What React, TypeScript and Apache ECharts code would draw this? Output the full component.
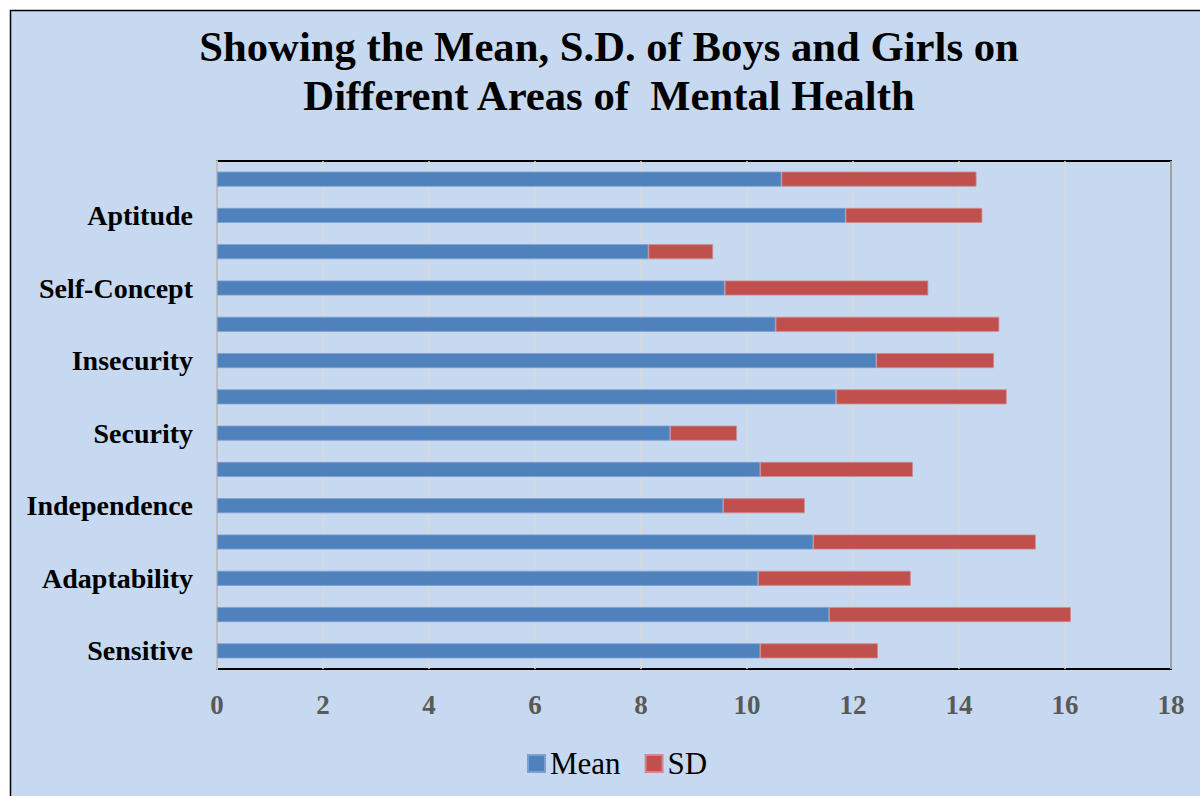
import React, { useEffect, useRef } from "react";
import * as echarts from "echarts";

const categories = [
  "Sensitive", "", "Adaptability", "", "Independence", "", "Security", "",
  "Insecurity", "", "Self-Concept", "", "Aptitude", "",
];
const meanValues = [10.25, 11.55, 10.21, 11.25, 9.55, 10.25, 8.55, 11.68, 12.44, 10.54, 9.58, 8.14, 11.86, 10.65];
const sdValues = [2.22, 4.56, 2.88, 4.2, 1.54, 2.88, 1.26, 3.22, 2.22, 4.22, 3.84, 1.22, 2.58, 3.68];
const titleText = "Showing the Mean, S.D. of Boys and Girls on\nDifferent Areas of  Mental Health";

const FONT = "'Liberation Serif', 'Times New Roman', serif";

export default function App() {
  const ref = useRef<HTMLDivElement>(null);
  useEffect(() => {
    document.body.style.margin = "0";
    const chart = echarts.init(ref.current!, undefined, { renderer: "svg" });
    chart.setOption({
      animation: false,
      backgroundColor: "#ffffff",
      graphic: [
        {
          type: "rect",
          z: -10,
          silent: true,
          shape: { x: 10.5, y: 10.5, width: 1200, height: 800 },
          style: { fill: "#c6d9f0", stroke: "#000000", lineWidth: 1.5 },
        },
      ],
      title: {
        text: titleText,
        left: 604,
        textAlign: "center",
        top: 17,
        textStyle: {
          fontFamily: FONT,
          fontWeight: "bold",
          fontSize: 42.7,
          lineHeight: 49,
          color: "#000000",
        },
      },
      legend: {
        bottom: 12,
        left: 522,
        itemWidth: 17,
        itemHeight: 17,
        itemGap: 24,
        icon: "rect",
        textStyle: { fontFamily: FONT, fontSize: 31, color: "#000000" },
        data: ["Mean", "SD"],
      },
      grid: {
        left: 217,
        right: 29,
        top: 161,
        bottom: 127,
        show: true,
        borderColor: "#000000",
        borderWidth: 2,
        containLabel: false,
      },
      xAxis: {
        type: "value",
        min: 0,
        max: 18,
        interval: 2,
        axisLine: { show: false },
        axisTick: { show: false },
        splitLine: { show: true, lineStyle: { color: "#d9d9d9", width: 1.5 } },
        axisLabel: {
          fontFamily: FONT,
          fontWeight: "bold",
          fontSize: 27,
          color: "#595959",
          margin: 22,
        },
      },
      yAxis: {
        type: "category",
        data: categories,
        axisLine: { show: true, lineStyle: { color: "#bfbfbf", width: 2 } },
        axisTick: { show: false },
        axisLabel: {
          interval: 0,
          fontFamily: FONT,
          fontWeight: "bold",
          fontSize: 28,
          color: "#000000",
          margin: 24,
        },
      },
      series: [
        {
          name: "Mean",
          type: "bar",
          stack: "total",
          data: meanValues,
          barWidth: 15,
          itemStyle: { color: "#4f81bd", borderColor: "#7d9fcf", borderWidth: 0.8 },
        },
        {
          name: "SD",
          type: "bar",
          stack: "total",
          data: sdValues,
          barWidth: 15,
          itemStyle: { color: "#c0504d", borderColor: "#d08a8a", borderWidth: 0.8 },
        },
      ],
    });
    return () => chart.dispose();
  }, []);
  return <div ref={ref} style={{ width: 1200, height: 796 }} />;
}
